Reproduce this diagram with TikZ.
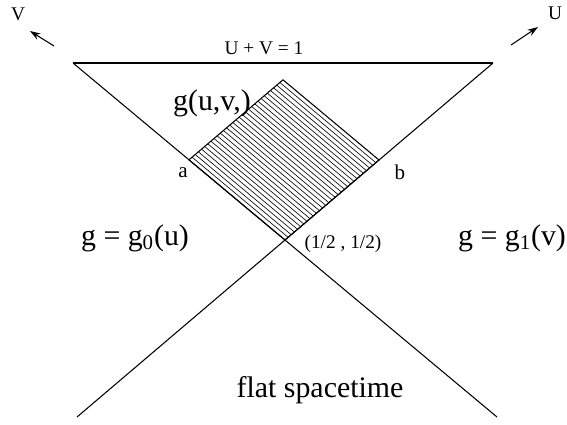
\documentclass[tikz,border=0pt]{standalone}
\usepackage{fontspec}
\setmainfont{Liberation Serif}
\usetikzlibrary{arrows.meta,calc}
\begin{document}
\begin{tikzpicture}[x=0.02cm,y=-0.02cm,line width=0.6pt,
  small/.style={inner sep=0pt,font=\fontsize{11}{13}\selectfont},
  large/.style={inner sep=0pt,font=\fontsize{17}{20}\selectfont},
  hatch/.style={line width=0.35pt},
  axis/.style={line width=0.6pt,-{Stealth[length=6pt,width=4pt]}}]
\useasboundingbox (0,0) rectangle (567,424);
% 光锥顶点与交点
\coordinate (tl) at (73,63);
\coordinate (tr) at (493,63);
\coordinate (o) at (285,240);
\coordinate (br) at ($(tl)!2.0!(o)$);
\coordinate (bl) at ($(tr)!2.0!(o)$);
% 光锥
\draw (tl) -- (tr);
\draw (tl) -- (br);
\draw (tr) -- (bl);
% 相互作用区（菱形）
\coordinate (da) at ($(tl)!0.547!(o)$);
\coordinate (db) at ($(tr)!0.548!(o)$);
\coordinate (dt) at ($(da)+(db)-(o)$);
\foreach \i in {1,...,29}
  \draw[hatch] ($(da)!\i/30!(dt)$) -- ($(o)!\i/30!(db)$);
\draw (o) -- (da) -- (dt) -- (db) -- cycle;
% 坐标轴 U, V
\coordinate (vtail) at (54,46);
\coordinate (vhead) at (30,31);
\draw[axis] (vtail) -- (vhead);
\node[small] (V) at (18,14) {V};
\coordinate (utail) at (511,45);
\coordinate (uhead) at (538,27);
\draw[axis] (utail) -- (uhead);
\node[small] (U) at (555,13) {U};
% 标注
\node[small] (edge) at (264,48) {U + V = 1};
\node[large] (guv) at (212,103) {g(u,v,)};
\node[small,font=\fontsize{12}{14}\selectfont] (a) at (183,173) {a};
\node[small,font=\fontsize{12}{14}\selectfont] (b) at (400,172) {b};
\node[large] (g0) at (135,238) {g = g\textsubscript{0}(u)};
\node[large] (g1) at (512,238) {g = g\textsubscript{1}(v)};
\node[small] (half) at (343,244) {(1/2 , 1/2)};
\node[large] (flat) at (320,390) {flat spacetime};
\end{tikzpicture}
\end{document}
